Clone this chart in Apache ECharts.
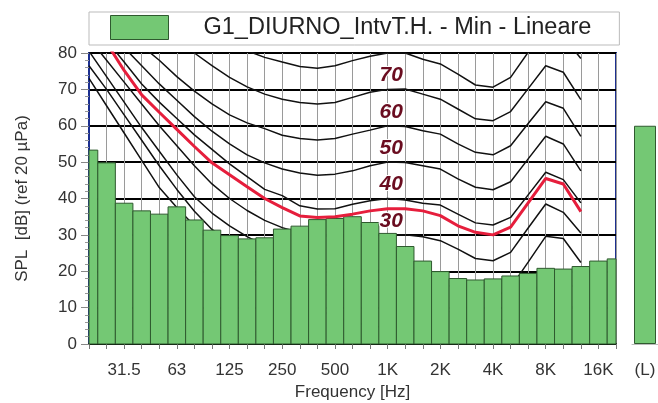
<!DOCTYPE html>
<html>
<head>
<meta charset="utf-8">
<script src="https://cdn.jsdelivr.net/npm/echarts@6/dist/echarts.min.js"></script>
<style>
  html, body { margin: 0; padding: 0; background: #fff; }
  #chart { width: 658px; height: 403px; }
</style>
</head>
<body>
<div id="chart"></div>
<script>
// third-octave bands, 20 Hz .. 20 kHz
const bands = ['20', '25', '31.5', '40', '50', '63', '80', '100', '125', '160', '200', '250', '315',
  '400', '500', '630', '800', '1K', '1.25K', '1.6K', '2K', '2.5K', '3.15K', '4K', '5K', '6.3K',
  '8K', '10K', '12.5K', '16K', '20K'];
const tickLabels = ['31.5', '63', '125', '250', '500', '1K', '2K', '4K', '8K', '16K'];

// measured band levels, dB
const spl = [53.3, 49.8, 38.7, 36.6, 35.7, 37.7, 34.1, 31.3, 29.8, 28.9, 29.2, 31.6, 32.4, 34.2,
  34.5, 35.0, 33.4, 30.4, 26.8, 22.8, 19.9, 18.0, 17.6, 17.9, 18.7, 19.4, 20.8, 20.6, 21.3, 22.8, 23.4];
const totalL = 60;

// equal loudness contours, 20 Hz .. 12.5 kHz
const phon0 = [73, 65.5, 58, 50.5, 43, 37.5, 32.5, 28, 24, 20.5, 17.5, 14.5, 12, 9.5, 7.5, 6, 5,
  4.5, 4, 2.5, 0.5, -1.5, -3, -3.5, -1.5, 3.5, 9, 11, 9.5];
const phon10 = [76.5, 70, 63, 56, 49, 42.5, 36.5, 31.5, 28, 25.5, 23, 21, 19, 17, 15.5, 14.5, 14,
  14, 13.5, 12, 10, 8, 6, 5.5, 7.5, 12.5, 18.5, 18, 14];
const phon20 = [80.5, 73.5, 66.5, 59.5, 53, 46.5, 40.5, 36, 32.5, 29.5, 27, 25, 23.5, 22, 21, 20.5,
  20.5, 20, 19.5, 18.5, 17, 15, 13, 12.5, 15.5, 22.5, 29.6, 29.0, 22.4];
const phon30 = [84, 78, 72, 66, 60, 54.5, 49, 44, 40, 36.7, 34, 32, 30.6, 29.8, 29.5, 29.5, 29.8,
  30, 30, 29.5, 28.4, 26.1, 23.5, 22.9, 25.2, 31.9, 38.5, 36.2, 30.5];
const phon40 = [89, 83.5, 77.5, 71.5, 66.5, 62, 57.5, 53.5, 49.5, 46, 42.5, 40.8, 38.0, 37.1, 37.2,
  38.4, 39.4, 40, 39.6, 38.7, 38.2, 35.7, 33.3, 32.7, 34.8, 41.0, 47.2, 45.2, 38.8];
const phon50 = [91, 86, 81.5, 76.5, 71.5, 67, 62.5, 58.5, 55, 52, 49.8, 48.1, 47.0, 46.4, 46.7,
  47.6, 49.0, 50, 49.9, 49.0, 48.1, 45.4, 43.1, 42.4, 44.6, 50.9, 57.1, 55.0, 47.6];
const phon60 = [94, 90, 86, 82, 78, 73.5, 69.5, 66, 63, 60.8, 59.2, 57.4, 56.5, 56.1, 56.5, 57.7,
  58.8, 60, 59.8, 58.6, 57.7, 55.0, 52.7, 52.0, 54.5, 60.6, 66.6, 64.8, 57.1];
const phon70 = [104, 100, 96, 92, 88, 84, 80, 76.5, 73.3, 70.7, 68.7, 67.3, 66.4, 66.0, 66.4, 67.8,
  69.2, 70, 70.1, 68.7, 67.3, 64.6, 61.9, 61.4, 63.9, 70.2, 76.5, 74.7, 67.2];
const phon80 = [112, 108, 104, 100, 96, 92, 88.5, 85.5, 83, 80.6, 78.8, 77.5, 76.3, 75.8, 76.5,
  77.9, 79.1, 80, 80, 78.3, 77.0, 74.2, 71.2, 70.6, 73.3, 80.2, 86.5, 84.5, 78.5];
// loudness contour of the measurement (red)
const measured = [88, 82.8, 75.2, 68.5, 63.7, 59, 54.3, 49.8, 46.5, 43.2, 40, 37.5, 35.2, 34.8,
  35.0, 35.7, 36.6, 37.2, 37.2, 36.6, 35.3, 32.5, 30.7, 30.0, 32.1, 38.8, 45.5, 44.0, 36.4];
const contourLabels = [70, 60, 50, 40, 30];

const seriesName = 'G1_DIURNO_IntvT.H. - Min - Lineare';
const font = "'Liberation Sans', Arial, sans-serif";
const green = '#74c874';
const greenEdge = '#2f5a2f';

const chart = echarts.init(document.getElementById('chart'));

const toXY = arr => arr.map((v, i) => [i, v]);
const contour = data => ({
  type: 'line',
  data: toXY(data),
  symbol: 'none',
  silent: true,
  z: 2,
  lineStyle: { color: '#111', width: 1.5 }
});

const option = {
  animation: false,
  textStyle: { fontFamily: font },
  legend: {
    left: 89,
    top: 12,
    padding: [3, 28, 5, 21],
    borderColor: '#bbbbbb',
    borderWidth: 1,
    itemWidth: 58,
    itemHeight: 24,
    textStyle: { fontSize: 23.5, color: '#222', fontFamily: font, padding: [0, 0, 0, 30] },
    data: [{ name: seriesName, icon: 'rect', itemStyle: { color: green, borderColor: greenEdge, borderWidth: 1 } }]
  },
  grid: [
    { left: 89, right: 42, top: 53, bottom: 59, show: true, borderColor: '#1c2f8f', borderWidth: 2, outerBoundsMode: 'none' },
    { left: 632, right: 0, top: 53, bottom: 59, outerBoundsMode: 'none' }
  ],
  xAxis: [
    {
      type: 'value',
      min: 0,
      max: 30,
      interval: 1,
      axisLine: { lineStyle: { color: '#000', width: 2 } },
      axisTick: { length: 5, lineStyle: { color: '#777' } },
      splitLine: { show: true, lineStyle: { color: '#9a9a9a', width: 1 } },
      axisLabel: {
        fontSize: 17,
        color: '#333',
        margin: 18,
        formatter: v => (tickLabels.includes(bands[v]) ? bands[v] : '')
      },
      name: 'Frequency [Hz]',
      nameLocation: 'middle',
      nameGap: 39,
      nameTextStyle: { fontSize: 17, color: '#333' }
    },
    {
      type: 'category',
      gridIndex: 1,
      data: ['(L)'],
      axisLine: { lineStyle: { color: '#bbb', width: 1 } },
      axisTick: { show: false },
      axisLabel: { fontSize: 17, color: '#333', margin: 18 }
    }
  ],
  yAxis: [
    {
      type: 'value',
      min: 0,
      max: 80,
      interval: 10,
      axisLine: { show: true, lineStyle: { color: '#1c2f8f', width: 2 } },
      axisTick: { show: true, length: 8, lineStyle: { color: '#888' } },
      minorTick: { show: true, splitNumber: 5, length: 4, lineStyle: { color: '#999' } },
      splitLine: { lineStyle: { color: '#000', width: 2 } },
      axisLabel: { fontSize: 17, color: '#333', margin: 12 },
      name: 'SPL  [dB] (ref 20 µPa)',
      nameLocation: 'middle',
      nameGap: 58,
      nameTextStyle: { fontSize: 17, color: '#333' }
    },
    { type: 'value', gridIndex: 1, min: 0, max: 80, show: false }
  ],
  series: [
    contour(phon0),
    contour(phon10),
    contour(phon20),
    contour(phon30),
    contour(phon40),
    contour(phon50),
    contour(phon60),
    contour(phon70),
    contour(phon80),
    {
      name: seriesName,
      type: 'custom',
      z: 3,
      itemStyle: { color: green },
      data: toXY(spl),
      renderItem: (params, api) => {
        const i = api.value(0);
        const p0 = api.coord([i - 0.5, api.value(1)]);
        const p1 = api.coord([i + 0.5, 0]);
        const rect = echarts.graphic.clipRectByRect(
          { x: p0[0], y: p0[1], width: p1[0] - p0[0], height: p1[1] - p0[1] },
          { x: params.coordSys.x, y: params.coordSys.y, width: params.coordSys.width, height: params.coordSys.height }
        );
        return rect && {
          type: 'rect',
          shape: rect,
          style: { fill: green, stroke: greenEdge, lineWidth: 1 }
        };
      }
    },
    {
      type: 'line',
      data: toXY(measured),
      symbol: 'none',
      silent: true,
      z: 4,
      lineStyle: { color: '#e61e3c', width: 3 }
    },
    {
      type: 'scatter',
      data: contourLabels.map(p => [17.2, p + 3.8, p]),
      symbolSize: 0,
      silent: true,
      z: 5,
      itemStyle: { opacity: 1 },
      label: {
        show: true,
        position: 'inside',
        formatter: p => p.value[2],
        fontSize: 21,
        fontWeight: 'bold',
        fontStyle: 'italic',
        color: '#6a0d20',
        textBorderColor: '#fff',
        textBorderWidth: 2
      }
    },
    {
      type: 'bar',
      xAxisIndex: 1,
      yAxisIndex: 1,
      data: [totalL],
      barWidth: 22,
      itemStyle: { color: green, borderColor: greenEdge, borderWidth: 1 }
    }
  ]
};

chart.setOption(option);
</script>
</body>
</html>
